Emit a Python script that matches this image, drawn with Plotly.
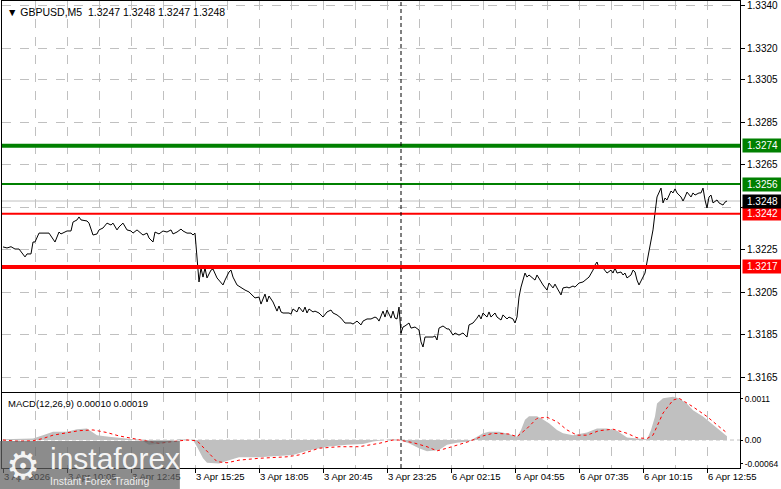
import plotly.graph_objects as go

# ---------------- data ----------------
symbol_title = "\u25BC GBPUSD,M5\u00a0\u00a01.3247 1.3248 1.3247 1.3248"
macd_title = "MACD(12,26,9) 0.00010 0.00019"

bar_idx = [0, 2, 4, 6, 8, 11, 12, 14, 15, 16, 18, 21, 23, 25, 26, 28, 29, 32, 34, 35, 37, 38, 39, 42, 43, 45, 47, 48,
           50, 52, 54, 55, 57, 58, 60, 62, 64, 65, 67, 70, 72, 73, 75, 76, 78, 80, 82, 84, 85, 87, 89, 90, 92, 94, 95,
           96, 97, 98, 99, 100, 101, 102, 104, 105, 107, 108, 110, 111, 113, 114, 115, 117, 119, 121, 123, 126, 128,
           129, 130, 131, 132, 133, 135, 136, 137, 138, 139, 140, 143, 144, 145, 147, 148, 150, 151, 152, 153, 155,
           156, 158, 160, 162, 164, 165, 167, 169, 171, 174, 175, 177, 179, 180, 182, 184, 186, 187, 188, 190, 191,
           192, 194, 195, 196, 197, 198, 199, 200, 201, 203, 204, 206, 208, 209, 210, 211, 213, 215, 216, 217, 218,
           220, 222, 223, 225, 226, 228, 230, 231, 232, 233, 235, 237, 238, 239, 240, 242, 243, 244, 246, 247, 249,
           250, 252, 253, 255, 256, 257, 258, 259, 261, 262, 263, 265, 266, 267, 269, 270, 272, 273, 275, 276, 277,
           279, 280, 282, 283, 285, 286, 288, 290, 291, 293, 295, 296, 297, 298, 300, 301, 302, 304, 305, 306, 307,
           309, 310, 311, 312, 314, 315, 316, 317, 318, 320, 321, 322, 323, 324, 325, 326, 327, 329, 330, 331, 332,
           334, 335, 336, 337, 339, 340, 341, 342, 344, 345, 346, 348, 349, 350, 351, 352, 353, 354, 355, 357, 358,
           360, 361, 362]
close = [1.32264, 1.32259, 1.32265, 1.32254, 1.32254, 1.32217, 1.32231, 1.32231, 1.32287, 1.32287, 1.32329, 1.32329,
         1.32329, 1.32301, 1.32287, 1.32334, 1.32325, 1.32339, 1.32339, 1.32381, 1.32391, 1.32405, 1.32391, 1.32386,
         1.32376, 1.32320, 1.32325, 1.32344, 1.32353, 1.32376, 1.32367, 1.32376, 1.32344, 1.32358, 1.32376, 1.32344,
         1.32339, 1.32329, 1.32344, 1.32320, 1.32329, 1.32306, 1.32287, 1.32334, 1.32325, 1.32339, 1.32334, 1.32344,
         1.32325, 1.32334, 1.32348, 1.32339, 1.32329, 1.32329, 1.32320, 1.32329, 1.32188, 1.32099, 1.32165, 1.32122,
         1.32165, 1.32118, 1.32155, 1.32160, 1.32118, 1.32108, 1.32085, 1.32108, 1.32146, 1.32155, 1.32122, 1.32085,
         1.32071, 1.32061, 1.32052, 1.32024, 1.32028, 1.31995, 1.32019, 1.32042, 1.32005, 1.32033, 1.32005, 1.31986,
         1.31962, 1.31986, 1.31958, 1.31953, 1.31953, 1.31948, 1.31972, 1.31958, 1.31981, 1.31958, 1.31981, 1.31953,
         1.31972, 1.31958, 1.31962, 1.31953, 1.31934, 1.31958, 1.31967, 1.31953, 1.31944, 1.31929, 1.31906, 1.31906,
         1.31901, 1.31915, 1.31897, 1.31915, 1.31925, 1.31925, 1.31934, 1.31929, 1.31915, 1.31962, 1.31934, 1.31967,
         1.31929, 1.31962, 1.31929, 1.31925, 1.31981, 1.31859, 1.31887, 1.31892, 1.31906, 1.31882, 1.31887, 1.31873,
         1.31817, 1.31793, 1.31840, 1.31840, 1.31840, 1.31845, 1.31826, 1.31882, 1.31892, 1.31878, 1.31878, 1.31849,
         1.31859, 1.31849, 1.31859, 1.31849, 1.31840, 1.31897, 1.31906, 1.31929, 1.31944, 1.31925, 1.31953, 1.31934,
         1.31958, 1.31934, 1.31953, 1.31934, 1.31920, 1.31944, 1.31925, 1.31934, 1.31925, 1.31906, 1.31934, 1.32028,
         1.32075, 1.32141, 1.32122, 1.32132, 1.32118, 1.32108, 1.32132, 1.32099, 1.32085, 1.32061, 1.32094, 1.32071,
         1.32089, 1.32071, 1.32038, 1.32071, 1.32075, 1.32071, 1.32080, 1.32075, 1.32094, 1.32099, 1.32108, 1.32122,
         1.32155, 1.32179, 1.32193, 1.32165, 1.32165, 1.32155, 1.32141, 1.32155, 1.32141, 1.32165, 1.32141, 1.32146,
         1.32132, 1.32141, 1.32118, 1.32132, 1.32155, 1.32146, 1.32108, 1.32085, 1.32122, 1.32141, 1.32193, 1.32250,
         1.32295, 1.32344, 1.32424, 1.32499, 1.32541, 1.32471, 1.32494, 1.32485, 1.32527, 1.32518, 1.32537, 1.32518,
         1.32499, 1.32480, 1.32499, 1.32522, 1.32499, 1.32518, 1.32508, 1.32518, 1.32518, 1.32541, 1.32485, 1.32447,
         1.32499, 1.32508, 1.32471, 1.32485, 1.32471, 1.32461, 1.32475, 1.32480]

hist_idx = [0, 15, 20, 25, 32, 37, 42, 47, 53, 62, 69, 73, 80, 88, 95, 97, 100, 102, 108, 113, 118, 128, 145, 152,
            162, 172, 180, 185, 192, 194, 198, 203, 208, 212, 218, 222, 227, 233, 237, 240, 243, 248, 253, 257, 259,
            261, 263, 267, 270, 273, 277, 280, 285, 292, 297, 302, 307, 312, 317, 322, 324, 326, 327, 330, 335, 338,
            342, 345, 350, 355, 358, 362]
hist_val = [0.00002, 0.00004, 0.00013, 0.00022, 0.00022, 0.00029, 0.00031, 0.00013, 0.00009, 0.00004, 0.00000,
            -0.00013, -0.00009, 0.00002, 0.00000, -0.00018, -0.00049, -0.00061, -0.00063, -0.00054, -0.00046,
            -0.00046, -0.00040, -0.00029, -0.00018, -0.00013, -0.00011, -0.00004, 0.00000, 0.00002, 0.00000,
            -0.00009, -0.00022, -0.00030, -0.00027, -0.00013, -0.00007, -0.00004, 0.00009, 0.00018, 0.00022,
            0.00022, 0.00016, 0.00009, 0.00027, 0.00054, 0.00064, 0.00064, 0.00055, 0.00045, 0.00027, 0.00018,
            0.00013, 0.00020, 0.00031, 0.00031, 0.00025, 0.00007, 0.00004, 0.00002, 0.00027, 0.00063, 0.00098,
            0.00112, 0.00116, 0.00112, 0.00097, 0.00080, 0.00063, 0.00040, 0.00027, 0.00010]

sig_idx = [0, 7, 15, 20, 25, 32, 38, 45, 52, 58, 65, 72, 78, 85, 92, 97, 102, 107, 112, 118, 128, 142, 148, 158, 168,
           178, 188, 195, 198, 205, 212, 217, 222, 227, 233, 240, 245, 253, 257, 262, 267, 272, 277, 282, 287, 292,
           298, 305, 312, 317, 322, 325, 330, 335, 338, 345, 352, 358, 362]
sig_val = [0.00000, -0.00003, -0.00002, 0.00004, 0.00013, 0.00020, 0.00025, 0.00027, 0.00020, 0.00011, 0.00004,
           -0.00004, -0.00009, -0.00004, 0.00000, -0.00002, -0.00031, -0.00058, -0.00061, -0.00054, -0.00049,
           -0.00045, -0.00040, -0.00022, -0.00018, -0.00018, -0.00009, 0.00000, 0.00000, -0.00007, -0.00018,
           -0.00029, -0.00022, -0.00013, -0.00004, 0.00011, 0.00018, 0.00016, 0.00009, 0.00031, 0.00058, 0.00061,
           0.00049, 0.00027, 0.00013, 0.00013, 0.00025, 0.00029, 0.00018, 0.00006, 0.00004, 0.00013, 0.00072,
           0.00107, 0.00112, 0.00089, 0.00063, 0.00036, 0.00019]

time_tick_idx = [0, 32, 64, 96, 128, 160, 192, 224, 256, 288, 320, 352]
time_tick_text = ["3 Apr 2026", "3 Apr 10:05", "3 Apr 12:45", "3 Apr 15:25", "3 Apr 18:05", "3 Apr 20:45",
                  "3 Apr 23:25", "6 Apr 02:15", "6 Apr 04:55", "6 Apr 07:35", "6 Apr 10:15", "6 Apr 12:55"]
price_ticks = [1.3165, 1.3185, 1.3205, 1.3225, 1.3245, 1.3265, 1.3285, 1.3305, 1.3320, 1.3340]
macd_ticks = [-0.00064, 0.0, 0.0011]
macd_tick_text = ["-0.00064", "0.00", "0.0011"]

day_separator_idx = 199
bid_price = 1.3248
levels = [1.3274, 1.3256, 1.3242, 1.3217]
level_colors = ["#008000", "#008000", "#FF0000", "#FF0000"]
level_widths = [4, 2, 2, 4]

FONT = "Liberation Sans"
GRID = "#C0C0C0"

fig = go.Figure()

fig.add_trace(go.Scatter(x=bar_idx, y=close, mode="lines", line=dict(color="black", width=1),
                         xaxis="x", yaxis="y", hoverinfo="skip"))
fig.add_trace(go.Scatter(x=hist_idx, y=hist_val, mode="lines", line=dict(color="#C0C0C0", width=0),
                         fill="tozeroy", fillcolor="#C0C0C0", xaxis="x2", yaxis="y2", hoverinfo="skip"))
fig.add_trace(go.Scatter(x=sig_idx, y=sig_val, mode="lines", line=dict(color="#FF0000", width=1, dash="3px,3px"),
                         xaxis="x2", yaxis="y2", hoverinfo="skip"))

shapes = []
shapes.append(dict(type="line", xref="x domain", yref="y", x0=0, x1=1, y0=bid_price, y1=bid_price,
                   line=dict(color="#C0C0C0", width=1), layer="below"))
for lv, c, w in zip(levels, level_colors, level_widths):
    shapes.append(dict(type="line", xref="x domain", yref="y", x0=0, x1=1, y0=lv, y1=lv,
                       line=dict(color=c, width=w)))
shapes.append(dict(type="line", xref="x2 domain", yref="y2", x0=0, x1=1, y0=0, y1=0,
                   line=dict(color=GRID, width=1, dash="4px,3px"), layer="below"))
shapes.append(dict(type="line", xref="x", yref="paper", x0=day_separator_idx, x1=day_separator_idx, y0=0, y1=1,
                   line=dict(color="black", width=1, dash="4px,3px")))
shapes.append(dict(type="rect", xref="paper", yref="paper", x0=-0.003, x1=0.241, y0=-0.046, y1=0.058,
                   fillcolor="rgba(95,95,95,0.72)", line=dict(width=0), layer="above"))

annotations = []
annotations.append(dict(text=symbol_title, xref="paper", yref="paper", x=0, y=1, xanchor="left", yanchor="top",
                        xshift=3, yshift=-3, showarrow=False, font=dict(family=FONT, size=10.5, color="black")))
annotations.append(dict(text=macd_title, xref="paper", yref="paper", x=0, y=0.1606, xanchor="left",
                        yanchor="top", xshift=4, yshift=-3, showarrow=False,
                        font=dict(family=FONT, size=9.5, color="black")))
lab_vals = levels + [bid_price]
lab_cols = level_colors + ["#000000"]
for v, c in zip(lab_vals, lab_cols):
    annotations.append(dict(text=f"{v:.4f}", xref="paper", yref="y", x=1, y=v, xanchor="left", yanchor="middle",
                            xshift=2, showarrow=False, bgcolor=c, borderpad=1,
                            font=dict(family=FONT, size=10, color="white"), width=37, align="center"))
annotations.append(dict(text="\u2699", xref="paper", yref="paper", x=0.0, y=0.005, xanchor="left",
                        yanchor="middle", xshift=2, showarrow=False,
                        font=dict(family="DejaVu Sans", size=38, color="rgba(255,255,255,0.92)")))
annotations.append(dict(text="instaforex", xref="paper", yref="paper", x=0.062, y=0.02, xanchor="left",
                        yanchor="middle", showarrow=False,
                        font=dict(family=FONT, size=30, color="rgba(255,255,255,0.92)")))
annotations.append(dict(text="Instant Forex Trading", xref="paper", yref="paper", x=0.062, y=-0.028,
                        xanchor="left", yanchor="middle", showarrow=False,
                        font=dict(family=FONT, size=10.5, color="rgba(255,255,255,0.85)")))

xcommon = dict(range=[-0.5, 368.5], showline=True, mirror=True, linecolor="black", linewidth=1,
               tickmode="array", tickvals=time_tick_idx, showgrid=True, gridcolor=GRID, griddash="dash",
               gridwidth=1, zeroline=False, automargin=False,
               minor=dict(tickmode="linear", tick0=0, dtick=16, showgrid=True, gridcolor=GRID, griddash="dash",
                          ticks=""))

fig.update_layout(
    width=781, height=489, margin=dict(l=2, r=41, t=1, b=21, autoexpand=False),
    paper_bgcolor="white", plot_bgcolor="white", showlegend=False,
    font=dict(family=FONT, size=9.5, color="black"),
    xaxis=dict(**xcommon, anchor="y", showticklabels=False, ticks=""),
    xaxis2=dict(**xcommon, anchor="y2", matches="x", ticktext=time_tick_text, showticklabels=True,
                ticks="outside", ticklen=4, tickcolor="black", ticklabelposition="outside right",
                tickfont=dict(family=FONT, size=9.5, color="black")),
    yaxis=dict(domain=[0.1627, 1], range=[1.315812, 1.334212], side="right", tickmode="array",
               tickvals=price_ticks, ticktext=[f"{v:.4f}" for v in price_ticks], showgrid=True,
               gridcolor=GRID, griddash="dash", showline=True, mirror=True, linecolor="black", linewidth=1,
               ticks="outside", ticklen=4, tickcolor="black", zeroline=False, automargin=False,
               tickfont=dict(family=FONT, size=10, color="black")),
    yaxis2=dict(domain=[0, 0.1606], range=[-0.00075, 0.00126], side="right", tickmode="array",
                tickvals=macd_ticks, ticktext=macd_tick_text, showgrid=False, showline=True, mirror=True,
                linecolor="black", linewidth=1, ticks="outside", ticklen=2, tickcolor="black", zeroline=False,
                automargin=False, tickfont=dict(family=FONT, size=8.5, color="black")),
    shapes=shapes, annotations=annotations,
)

fig.write_html("out.html", config={"displayModeBar": False},
               post_script="document.body.style.margin='0px';document.body.style.overflow='hidden';")
